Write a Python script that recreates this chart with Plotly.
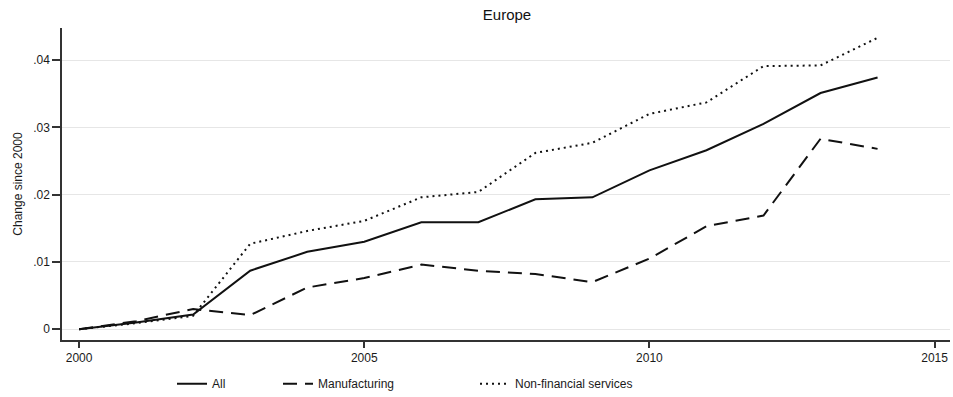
import plotly.graph_objects as go

years = list(range(2000, 2015))
all_vals = [0.0, 0.001, 0.0022, 0.0087, 0.0115, 0.0130, 0.0159, 0.0159, 0.0193, 0.0196, 0.0236, 0.0266, 0.0305, 0.0351, 0.0374]
manuf_vals = [0.0, 0.0012, 0.0030, 0.0021, 0.0062, 0.0076, 0.0096, 0.0087, 0.0082, 0.0070, 0.0105, 0.0153, 0.0169, 0.0283, 0.0268]
nonfin_vals = [0.0, 0.0009, 0.0020, 0.0127, 0.0146, 0.0161, 0.0196, 0.0204, 0.0262, 0.0277, 0.0320, 0.0337, 0.0391, 0.0392, 0.0433]

y_ticks = [0, 0.01, 0.02, 0.03, 0.04]
y_labels = ["0", ".01", ".02", ".03", ".04"]
x_ticks = [2000, 2005, 2010, 2015]

font = dict(family="Liberation Sans, Arial, sans-serif", size=12, color="#1a1a1a")

fig = go.Figure()
fig.add_trace(go.Scatter(x=years, y=all_vals, mode="lines", name="All", showlegend=True,
                         line=dict(color="#111", width=2), legend="legend"))
fig.add_trace(go.Scatter(x=years, y=manuf_vals, mode="lines", name="Manufacturing", showlegend=True,
                         line=dict(color="#111", width=2, dash="14px,8px"), legend="legend2"))
fig.add_trace(go.Scatter(x=years, y=nonfin_vals, mode="lines", name="Non-financial services", showlegend=True,
                         line=dict(color="#111", width=2, dash="2px,4px"), legend="legend3"))

leg_common = dict(orientation="h", yanchor="middle", y=-0.14, xanchor="left",
                  bgcolor="rgba(0,0,0,0)", font=font, visible=True)
fig.update_layout(
    width=953, height=397,
    margin=dict(l=62, r=3, t=28, b=57, autoexpand=False),
    paper_bgcolor="white", plot_bgcolor="white",
    font=font,
    showlegend=True,
    title=dict(text="Europe", x=0.532, xanchor="center", y=0.962, yanchor="middle",
               font=dict(family="Liberation Sans, Arial, sans-serif", size=15, color="#111")),
    legend=dict(x=(172 - 62) / 888, **leg_common),
    legend2=dict(x=(278 - 62) / 888, **leg_common),
    legend3=dict(x=(475 - 62) / 888, **leg_common),
    xaxis=dict(range=[1999.7, 2015.27], tickvals=x_ticks, ticks="outside", ticklen=6,
               tickwidth=1.5, tickcolor="#333", showline=True, linecolor="#333", linewidth=1.5,
               showgrid=False, zeroline=False, tickfont=font),
    yaxis=dict(range=[-0.0016, 0.04476], tickvals=y_ticks, ticktext=y_labels, ticks="outside",
               ticklen=8, tickwidth=1.5, tickcolor="#333", showline=True, linecolor="#333",
               linewidth=1.5, showgrid=True, gridcolor="#e6e6e6", gridwidth=1, zeroline=False,
               tickfont=font, title=dict(text="Change since 2000", font=font, standoff=8)),
)

fig.write_html("out.html")
